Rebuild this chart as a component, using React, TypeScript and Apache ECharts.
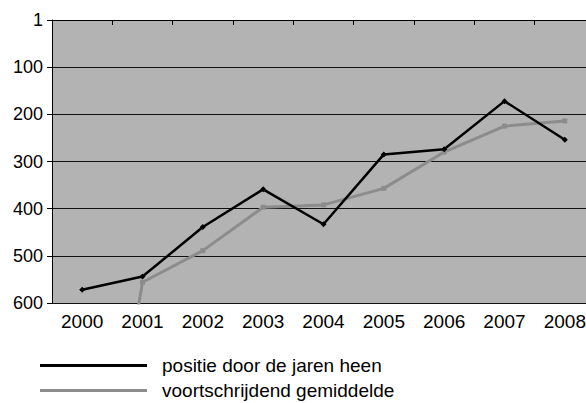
import React, { useEffect, useRef } from "react";
import * as echarts from "echarts";

const years = ["2000", "2001", "2002", "2003", "2004", "2005", "2006", "2007", "2008"];
const positie = [572, 544, 439, 359, 433, 285, 274, 172, 254];
const gemiddelde = [1300, 556, 489, 397, 392, 357, 280, 225, 214];
const seriesNames = ["positie door de jaren heen", "voortschrijdend gemiddelde"];

const FONT = "'Liberation Sans', Arial, sans-serif";

export default function App() {
  const ref = useRef<HTMLDivElement>(null);
  useEffect(() => {
    if (!ref.current) return;
    const chart = echarts.init(ref.current, undefined, { renderer: "svg" });
    const legendBase = {
      orient: "horizontal",
      left: 40,
      padding: 0,
      itemWidth: 107,
      itemHeight: 3,
      icon: "rect",
      textStyle: { color: "#000", fontSize: 19, fontFamily: FONT, padding: [0, 0, 0, 10] },
    };
    chart.setOption({
      animation: false,
      backgroundColor: "#ffffff",
      grid: { left: 52, top: 20, right: 5, bottom: 100, show: true, backgroundColor: "#b3b3b3", borderWidth: 0 },
      legend: [
        { ...legendBase, top: 356, data: [seriesNames[0]] },
        { ...legendBase, top: 381, data: [seriesNames[1]] },
      ],
      xAxis: {
        type: "category",
        data: years,
        boundaryGap: true,
        axisLine: { show: true, lineStyle: { color: "#000", width: 1 } },
        axisTick: { show: true, interval: 0, length: 5, lineStyle: { color: "#000" } },
        axisLabel: { color: "#000", fontSize: 19, fontFamily: FONT, margin: 9, interval: 0 },
        splitLine: { show: false },
      },
      yAxis: {
        type: "value",
        inverse: true,
        min: 0,
        max: 600,
        interval: 100,
        axisLine: { show: true, lineStyle: { color: "#000", width: 1 } },
        axisTick: { show: true, length: 5, lineStyle: { color: "#000" } },
        axisLabel: {
          color: "#000",
          fontSize: 18,
          fontFamily: FONT,
          margin: 9,
          formatter: (v: number) => (v === 0 ? "1" : String(v)),
        },
        splitLine: {
          show: true,
          lineStyle: { color: ["#8a8a8a", "#111", "#111", "#111", "#111", "#111", "#111"], width: 1 },
        },
      },
      series: [
        {
          name: seriesNames[0],
          type: "line",
          data: positie,
          symbol: "diamond",
          symbolSize: 6,
          clip: true,
          lineStyle: { color: "#000", width: 2.5 },
          itemStyle: { color: "#000" },
          z: 3,
        },
        {
          name: seriesNames[1],
          type: "line",
          data: gemiddelde,
          symbol: "rect",
          symbolSize: 5,
          clip: true,
          lineStyle: { color: "#8c8c8c", width: 3 },
          itemStyle: { color: "#8c8c8c" },
          z: 2,
        },
      ],
    });
    return () => chart.dispose();
  }, []);
  return (
    <div style={{ position: "fixed", left: 0, top: 0, width: 586, height: 403, overflow: "hidden" }}>
      <div ref={ref} style={{ width: 600, height: 403 }} />
    </div>
  );
}
